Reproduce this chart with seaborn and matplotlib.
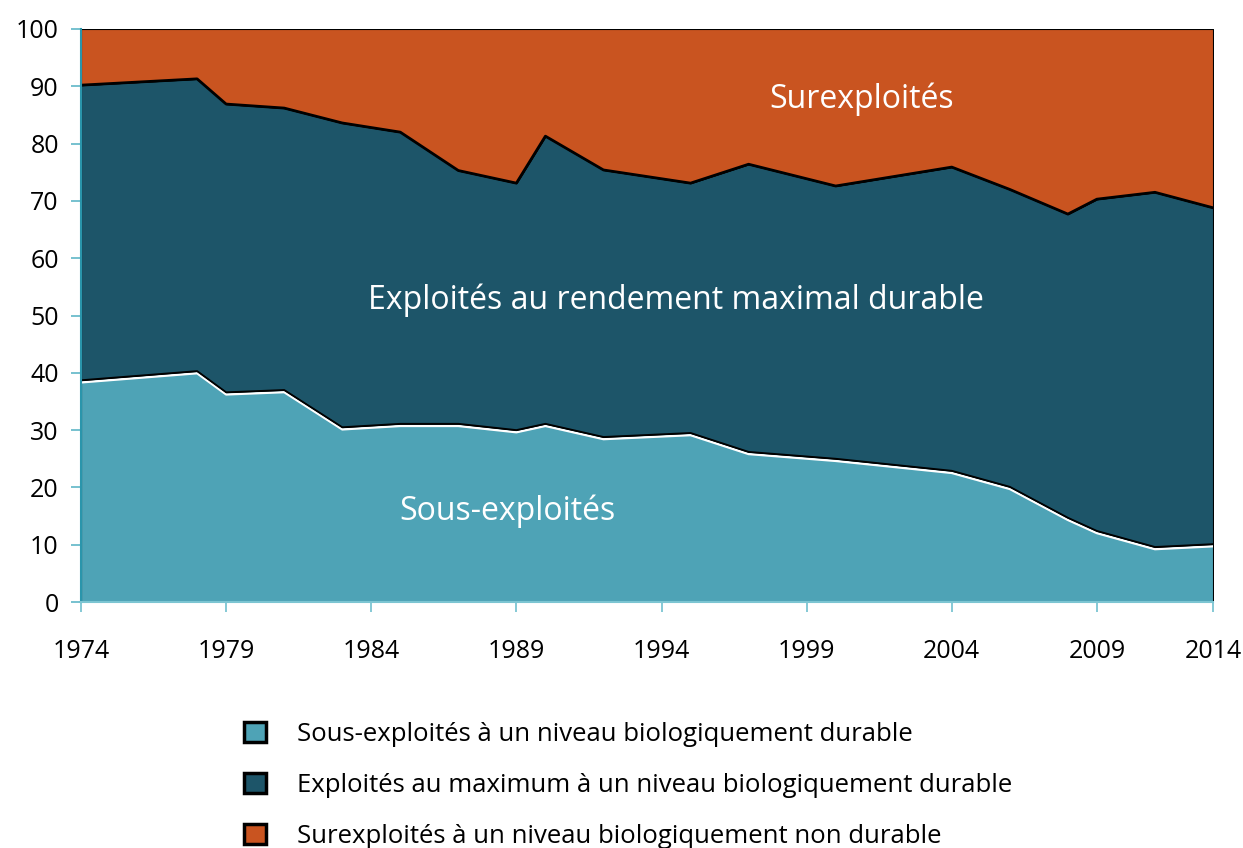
import matplotlib
matplotlib.use("Agg")
import matplotlib.pyplot as plt
import matplotlib.patheffects as pe
from matplotlib.patches import Patch
import pandas as pd
import seaborn as sns

# Share of assessed stocks (%) per year
years = [1974, 1978, 1979, 1981, 1983, 1985, 1987, 1989, 1990, 1992,
         1995, 1997, 2000, 2004, 2006, 2008, 2009, 2011, 2013]
sous_exploites = [38.7, 40.3, 36.6, 37.0, 30.5, 31.1, 31.1, 30.0, 31.1, 28.8,
                  29.5, 26.2, 25.0, 22.9, 20.1, 14.7, 12.4, 9.6, 10.1]
exploites_max = [51.5, 51.0, 50.3, 49.2, 53.1, 50.9, 44.2, 43.1, 50.2, 46.6,
                 43.6, 50.2, 47.6, 53.0, 51.9, 53.0, 57.9, 61.9, 58.7]
surexploites = [9.8, 8.7, 13.1, 13.8, 16.4, 18.0, 24.7, 26.9, 18.7, 24.6,
                26.9, 23.6, 27.4, 24.1, 28.0, 32.3, 29.7, 28.5, 31.2]

tick_years = [1974, 1979, 1984, 1989, 1994, 1999, 2004, 2009, 2013]
tick_labels = ["1974", "1979", "1984", "1989", "1994", "1999", "2004", "2009", "2014"]

legend_labels = [
    "Sous-exploités à un niveau biologiquement durable",
    "Exploités au maximum à un niveau biologiquement durable",
    "Surexploités à un niveau biologiquement non durable",
]
area_labels = ["Sous-exploités", "Exploités au rendement maximal durable", "Surexploités"]
colors = ["#4EA3B6", "#1D5569", "#C95420"]

df = pd.DataFrame({"annee": years, "sous": sous_exploites,
                   "max": exploites_max, "sur": surexploites})
df["limite_basse"] = df["sous"]
df["limite_haute"] = df["sous"] + df["max"]

sns.set_theme(style="white")
plt.rcParams["font.family"] = ["Open Sans", "DejaVu Sans"]

fig = plt.figure(figsize=(12.43, 8.48), dpi=100)
ax = fig.add_axes([81 / 1243, 1 - 602 / 848, (1213 - 81) / 1243, (602 - 29) / 848])

ax.stackplot(df["annee"], df["sous"], df["max"], df["sur"], colors=colors,
             edgecolor="black", linewidth=0.8)

# boundaries between areas
sns.lineplot(data=df, x="annee", y="limite_basse", ax=ax, color="black", lw=1.3,
             path_effects=[pe.Stroke(linewidth=1.6, foreground="white", offset=(0, -1.6)),
                           pe.Normal()])
sns.lineplot(data=df, x="annee", y="limite_haute", ax=ax, color="black", lw=2.0)

ax.set_xlim(1974, 2013)
ax.set_ylim(0, 100)
ax.set_yticks(range(0, 101, 10))
ax.set_xticks(tick_years)
ax.set_xticklabels(tick_labels)
ax.set_xlabel("")
ax.set_ylabel("")

for s in ["top", "right"]:
    ax.spines[s].set_visible(False)
ax.spines["left"].set_color("#2A95AB")
ax.spines["left"].set_linewidth(1.5)
ax.spines["bottom"].set_color("#7CC5D2")
ax.spines["bottom"].set_linewidth(1.5)
ax.tick_params(axis="y", length=7, width=1.3, color="#6BBCCB", pad=9,
               labelsize=18, left=True, labelcolor="black")
ax.tick_params(axis="x", length=7, width=1.3, color="#7CC5D2", pad=20,
               labelsize=18, bottom=True, labelcolor="black")

# labels inside areas
ax.text(1988.7, 15.8, area_labels[0], color="white", fontsize=23, ha="center", va="center")
ax.text(1994.5, 52.6, area_labels[1], color="white", fontsize=23, ha="center", va="center")
ax.text(2000.9, 87.7, area_labels[2], color="white", fontsize=23, ha="center", va="center")

handles = [Patch(facecolor=c, edgecolor="black", linewidth=2.5) for c in colors]
fig.legend(handles, legend_labels, loc="upper left",
           bbox_to_anchor=(231 / 1243, 1 - 709 / 848), frameon=False,
           fontsize=18.5, labelcolor="black", handlelength=0.85, handleheight=0.85,
           handletextpad=1.2, labelspacing=1.0, borderpad=0)

fig.savefig("out.png", dpi=100)
